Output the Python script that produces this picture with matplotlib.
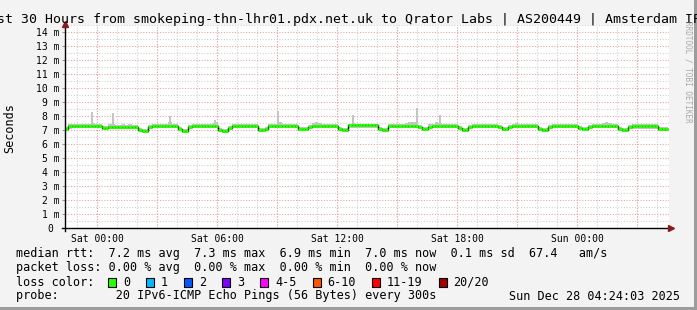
import matplotlib
matplotlib.use("Agg")
import matplotlib.pyplot as plt
import numpy as np
from matplotlib.patches import Rectangle

# median rtt (ms), one value per 10 minutes, Fri 22:24 -> Sun 04:24
median_ms = [
    7.05, 7.28, 7.30, 7.30, 7.30, 7.30, 7.30, 7.30, 7.30, 7.30,
    7.30, 7.15, 7.15, 7.25, 7.25, 7.25, 7.25, 7.25, 7.25, 7.25,
    7.25, 7.25, 7.00, 6.95, 6.95, 7.20, 7.30, 7.30, 7.30, 7.30,
    7.30, 7.30, 7.30, 7.30, 7.05, 6.95, 6.95, 7.20, 7.30, 7.30,
    7.30, 7.30, 7.30, 7.30, 7.30, 7.30, 7.00, 6.95, 6.95, 7.15,
    7.30, 7.30, 7.30, 7.30, 7.30, 7.30, 7.30, 7.30, 7.00, 7.00,
    7.10, 7.30, 7.30, 7.30, 7.30, 7.30, 7.30, 7.30, 7.30, 7.30,
    7.05, 7.05, 7.10, 7.20, 7.30, 7.30, 7.30, 7.30, 7.30, 7.30,
    7.30, 7.30, 7.05, 7.00, 7.00, 7.33, 7.33, 7.33, 7.33, 7.33,
    7.33, 7.33, 7.33, 7.33, 7.10, 7.00, 7.00, 7.30, 7.30, 7.30,
    7.30, 7.30, 7.30, 7.30, 7.30, 7.30, 7.20, 7.10, 7.10, 7.25,
    7.30, 7.30, 7.30, 7.30, 7.30, 7.30, 7.30, 7.30, 7.15, 7.00,
    7.00, 7.20, 7.30, 7.30, 7.30, 7.30, 7.30, 7.30, 7.30, 7.30,
    7.20, 7.05, 7.05, 7.20, 7.30, 7.30, 7.30, 7.30, 7.30, 7.30,
    7.30, 7.30, 7.10, 6.98, 6.98, 7.20, 7.30, 7.30, 7.30, 7.30,
    7.30, 7.30, 7.30, 7.30, 7.15, 7.05, 7.05, 7.20, 7.30, 7.30,
    7.30, 7.30, 7.30, 7.30, 7.30, 7.30, 7.10, 7.00, 7.00, 7.20,
    7.28, 7.28, 7.28, 7.28, 7.28, 7.28, 7.28, 7.28, 7.10, 7.05,
    7.05,
]

# smoke band (fastest / slowest pings) per 10 minutes
smoke_lo = [
    6.95, 7.10, 7.12, 7.12, 7.12, 7.12, 7.12, 7.12, 7.12, 7.12,
    7.12, 7.02, 7.02, 7.10, 7.10, 7.10, 7.10, 7.10, 7.10, 7.10,
    7.10, 7.10, 6.90, 6.85, 6.85, 7.05, 7.12, 7.12, 7.12, 7.12,
    7.12, 7.12, 7.12, 7.12, 6.92, 6.85, 6.85, 7.05, 7.12, 7.12,
    7.12, 7.12, 7.12, 7.12, 7.12, 7.12, 6.90, 6.85, 6.85, 7.02,
    7.12, 7.12, 7.12, 7.12, 7.12, 7.12, 7.12, 7.12, 6.90, 6.90,
    6.98, 7.12, 7.12, 7.12, 7.12, 7.12, 7.12, 7.12, 7.12, 7.12,
    6.95, 6.95, 6.98, 7.05, 7.12, 7.12, 7.12, 7.12, 7.12, 7.12,
    7.12, 7.12, 6.95, 6.90, 6.90, 7.15, 7.15, 7.15, 7.15, 7.15,
    7.15, 7.15, 7.15, 7.15, 6.98, 6.90, 6.90, 7.12, 7.12, 7.12,
    7.12, 7.12, 7.12, 7.12, 7.12, 7.12, 7.05, 6.98, 6.98, 7.10,
    7.12, 7.12, 7.12, 7.12, 7.12, 7.12, 7.12, 7.12, 7.02, 6.90,
    6.90, 7.05, 7.12, 7.12, 7.12, 7.12, 7.12, 7.12, 7.12, 7.12,
    7.05, 6.95, 6.95, 7.05, 7.12, 7.12, 7.12, 7.12, 7.12, 7.12,
    7.12, 7.12, 6.98, 6.88, 6.88, 7.05, 7.12, 7.12, 7.12, 7.12,
    7.12, 7.12, 7.12, 7.12, 7.02, 6.95, 6.95, 7.05, 7.12, 7.12,
    7.12, 7.12, 7.12, 7.12, 7.12, 7.12, 6.98, 6.90, 6.90, 7.05,
    7.10, 7.10, 7.10, 7.10, 7.10, 7.10, 7.10, 7.10, 6.98, 6.95,
    6.95,
]
smoke_hi = [
    7.20, 7.40, 7.42, 7.40, 7.42, 7.45, 7.40, 7.42, 7.50, 7.42,
    7.40, 7.30, 7.30, 7.40, 7.45, 7.38, 7.38, 7.40, 7.38, 7.40,
    7.38, 7.36, 7.15, 7.10, 7.10, 7.35, 7.40, 7.42, 7.45, 7.42,
    7.40, 7.55, 7.45, 7.40, 7.20, 7.10, 7.10, 7.35, 7.40, 7.42,
    7.40, 7.42, 7.40, 7.45, 7.50, 7.55, 7.15, 7.10, 7.10, 7.30,
    7.40, 7.42, 7.40, 7.45, 7.42, 7.40, 7.42, 7.40, 7.15, 7.15,
    7.25, 7.40, 7.42, 7.45, 7.55, 7.42, 7.40, 7.42, 7.40, 7.42,
    7.20, 7.20, 7.25, 7.35, 7.50, 7.55, 7.50, 7.45, 7.40, 7.42,
    7.40, 7.42, 7.20, 7.15, 7.15, 7.45, 7.50, 7.45, 7.45, 7.42,
    7.45, 7.42, 7.45, 7.42, 7.25, 7.15, 7.15, 7.42, 7.40, 7.42,
    7.45, 7.40, 7.50, 7.55, 7.60, 7.55, 7.35, 7.25, 7.25, 7.40,
    7.45, 7.55, 7.50, 7.45, 7.42, 7.40, 7.42, 7.40, 7.30, 7.15,
    7.15, 7.35, 7.42, 7.40, 7.42, 7.45, 7.40, 7.42, 7.40, 7.42,
    7.35, 7.20, 7.20, 7.35, 7.45, 7.50, 7.45, 7.42, 7.40, 7.42,
    7.40, 7.42, 7.25, 7.12, 7.12, 7.35, 7.40, 7.42, 7.40, 7.42,
    7.40, 7.42, 7.40, 7.42, 7.30, 7.20, 7.20, 7.35, 7.40, 7.42,
    7.45, 7.50, 7.55, 7.50, 7.45, 7.42, 7.25, 7.15, 7.15, 7.35,
    7.40, 7.42, 7.40, 7.42, 7.40, 7.42, 7.40, 7.42, 7.25, 7.20,
    7.20,
]

# single slow pings sticking out of the smoke (hours since start, ms)
spike_hours = [1.35, 2.4, 5.25, 7.5, 10.65, 14.4, 17.25, 17.6, 18.75]
spike_ms = [8.3, 8.2, 8.0, 7.7, 8.35, 8.1, 7.6, 8.55, 8.05]

tick_hours = [1.6, 7.6, 13.6, 19.6, 25.6]
tick_labels = ["Sat 00:00", "Sat 06:00", "Sat 12:00", "Sat 18:00", "Sun 00:00"]
y_labels = ["0 "] + [f"{v} m" for v in range(1, 15)]

rtt_stats = ["7.2", "7.3", "6.9", "7.0", "0.1", "67.4"]
loss_stats = ["0.00", "0.00", "0.00", "0.00"]
loss_labels = ["0", "1", "2", "3", "4-5", "6-10", "11-19", "20/20"]
loss_colors = ["#26ff00", "#00b8ff", "#0059ff", "#7e00ff", "#ff00ff",
               "#ff5500", "#ff0000", "#a10000"]

title = ("Last 30 Hours from smokeping-thn-lhr01.pdx.net.uk to Qrator Labs"
         " | AS200449 | Amsterdam IPv6")
probe_text = "20 IPv6-ICMP Echo Pings (56 Bytes) every 300s"
stamp = "Sun Dec 28 04:24:03 2025"

W, H = 697, 310
MONO = "DejaVu Sans Mono"


def fx(x):
    return x / W


def fy(y):
    return 1 - y / H


fig = plt.figure(figsize=(W / 100, H / 100), dpi=100, facecolor="#f3f3f3")
ax = fig.add_axes([fx(65), fy(228), fx(669 - 65), (228 - 25) / H])
ax.set_facecolor("white")
ax.set_xlim(0, 30.2)
ax.set_ylim(0, 14.5)

# grid, rrdtool style dotted
dots = (0, (1, 1.5))
for h in np.arange(0.6, 30.2, 1.0):
    ax.axvline(h, color="#d2d2d2", lw=0.8, ls=dots, zorder=0)
for h in np.arange(1.6, 30.2, 3.0):
    ax.axvline(h, color="#e5a5a5", lw=0.8, ls=dots, zorder=0)
for v in np.arange(0.5, 14.6, 1.0):
    ax.axhline(v, color="#d2d2d2", lw=0.8, ls=dots, zorder=0)
for v in range(1, 15):
    ax.axhline(v, color="#e5a5a5", lw=0.8, ls=dots, zorder=0)

edges = np.arange(len(median_ms) + 1) / 6.0
ax.stairs(smoke_hi, edges, baseline=smoke_lo, fill=True, color="#c4c4c4", zorder=2)
ax.vlines(spike_hours, 7.3, spike_ms, color="#c4c4c4", lw=1.4, zorder=2)
ax.stairs(median_ms, edges, baseline=None, color="black", lw=1.0, zorder=3)
ax.hlines(median_ms, edges[:-1], edges[1:], color=loss_colors[0], lw=2.2, zorder=4)

# axes with arrows
for s in ax.spines.values():
    s.set_visible(False)
ax.plot([0, 0], [-0.2, 14.5], color="black", lw=1, clip_on=False, zorder=5)
ax.plot([-0.15, 30.2], [0, 0], color="black", lw=1, clip_on=False, zorder=5)
ax.plot(0, 14.6, marker="^", ms=4.5, color="#8b1a1a", clip_on=False, zorder=6)
ax.plot(30.3, 0, marker=">", ms=4.5, color="#8b1a1a", clip_on=False, zorder=6)

ax.set_xticks(tick_hours, tick_labels, fontsize=7, family=MONO)
ax.set_yticks(range(15), y_labels, fontsize=7, family=MONO)
ax.tick_params(axis="x", length=0, pad=4)
ax.tick_params(axis="y", length=2, width=0.6, color="#888888", pad=2)

fig.text(fx(349), fy(19), title, ha="center", va="center", fontsize=9.5, family=MONO)
fig.text(fx(10), fy(128), "Seconds", rotation=90, ha="center", va="center",
         fontsize=8.5, family=MONO)
fig.text(fx(688), fy(21), "RRDTOOL / TOBI OETIKER", rotation=270, ha="center",
         va="top", fontsize=5.5, family=MONO, color="#a8a8a8")

leg = dict(fontsize=8.5, family=MONO, va="center", ha="left")
a = rtt_stats
fig.text(fx(16), fy(254),
         f"median rtt:  {a[0]} ms avg  {a[1]} ms max  {a[2]} ms min  "
         f"{a[3]} ms now  {a[4]} ms sd  {a[5]}   am/s", **leg)
b = loss_stats
fig.text(fx(16), fy(268),
         f"packet loss: {b[0]} % avg  {b[1]} % max  {b[2]} % min  {b[3]} % now",
         **leg)
fig.text(fx(16), fy(282), "loss color:", **leg)
x = 108
for lab, col in zip(loss_labels, loss_colors):
    fig.add_artist(Rectangle((fx(x), fy(286.5)), fx(8), 9 / H, transform=fig.transFigure,
                             facecolor=col, edgecolor="black", lw=0.8))
    fig.text(fx(x + 15), fy(282), lab, **leg)
    x = x + 15 + len(lab) * 7.1 + 16
fig.text(fx(16), fy(296), "probe:        " + probe_text, **leg)
fig.text(fx(680), fy(296), stamp, fontsize=8.5, family=MONO, va="center", ha="right")

# 3d frame of the rrd canvas
fig.add_artist(Rectangle((fx(694), 0), fx(3), 1, transform=fig.transFigure,
                         facecolor="#9c9c9c", edgecolor="none"))
fig.add_artist(Rectangle((0, 0), 1, 3 / H, transform=fig.transFigure,
                         facecolor="#9c9c9c", edgecolor="none"))

fig.savefig("out.png", dpi=100, facecolor=fig.get_facecolor())
